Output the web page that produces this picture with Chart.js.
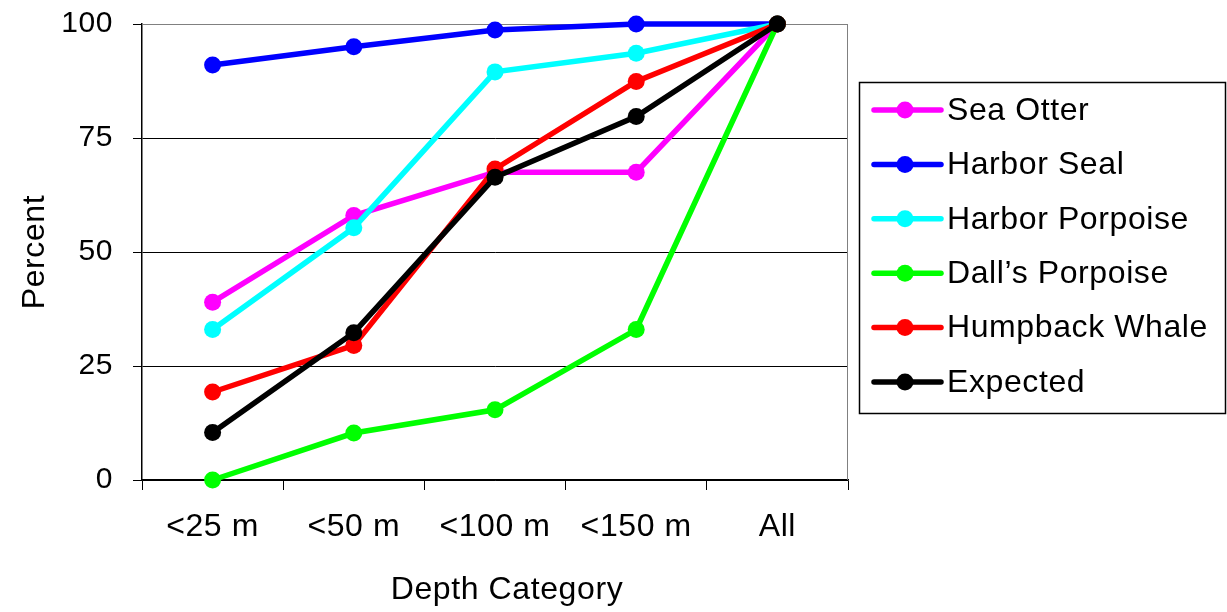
<!DOCTYPE html>
<html>
<head>
<meta charset="utf-8">
<script src="https://cdn.jsdelivr.net/npm/chart.js@4/dist/chart.umd.min.js"></script>
<style>
  html, body { margin: 0; padding: 0; background: #fff; }
  #wrap { width: 1227px; height: 612px; }
</style>
</head>
<body>
<div id="wrap"><canvas id="myChart" width="1227" height="612"></canvas></div>
<script>
const categories = ["<25 m", "<50 m", "<100 m", "<150 m", "All"];
const yTicks = [0, 25, 50, 75, 100];

const seaOtter = [39, 58, 67.5, 67.5, 100];
const harborSeal = [91, 95, 98.7, 100, 100];
const harborPorpoise = [33, 55.3, 89.5, 93.6, 100];
const dallsPorpoise = [0, 10.3, 15.4, 33, 100];
const humpbackWhale = [19.3, 29.5, 68.2, 87.4, 100];
const expected = [10.4, 32.3, 66.4, 79.7, 100];

const seriesNames = ["Sea Otter", "Harbor Seal", "Harbor Porpoise", "Dall\u2019s Porpoise", "Humpback Whale", "Expected"];
const seriesColors = ["#ff00ff", "#0000ff", "#00ffff", "#00ff00", "#ff0000", "#000000"];
const seriesData = [seaOtter, harborSeal, harborPorpoise, dallsPorpoise, humpbackWhale, expected];

const xTitle = "Depth Category";
const yTitle = "Percent";

const FONT = "'Liberation Sans', Arial, sans-serif";

// slightly spaced letters, like the old Excel rendering
const spacing = {
    id: "spacing",
    beforeInit (chart) { chart.ctx.letterSpacing = "0.6px"; },
    beforeDraw (chart) { chart.ctx.letterSpacing = "0.6px"; }
};

// legend box and x title, placed like the Excel original
const boxLegend = {
    id: "boxLegend",
    afterDraw (chart)
    {
        const ctx = chart.ctx;
        ctx.save();
        ctx.fillStyle = "#000";
        ctx.font = "32px " + FONT;
        ctx.textAlign = "center";
        ctx.textBaseline = "middle";
        ctx.fillText(xTitle, 507, 590);

        ctx.textAlign = "left";
        ctx.strokeStyle = "#000";
        ctx.lineWidth = 1.5;
        ctx.strokeRect(859.5, 82.5, 366, 331);
        chart.data.datasets.forEach((ds, i) => {
            const y = 110 + i * 54.4;
            ctx.strokeStyle = ds.borderColor;
            ctx.lineWidth = 5.5;
            ctx.lineCap = "round";
            ctx.beginPath();
            ctx.moveTo(874, y);
            ctx.lineTo(941, y);
            ctx.stroke();
            ctx.fillStyle = ds.borderColor;
            ctx.beginPath();
            ctx.arc(905, y, 8.5, 0, Math.PI * 2);
            ctx.fill();
            ctx.fillStyle = "#000";
            ctx.fillText(ds.label, 947, y + 1);
        });
        ctx.restore();
    }
};

// gray frame round the plot area
const plotFrame = {
    id: "plotFrame",
    beforeDatasetsDraw (chart)
    {
        const a = chart.chartArea;
        const ctx = chart.ctx;
        ctx.save();
        ctx.strokeStyle = "#808080";
        ctx.lineWidth = 1;
        ctx.beginPath();
        ctx.moveTo(a.left, a.top + 0.5);
        ctx.lineTo(a.right - 0.5, a.top + 0.5);
        ctx.lineTo(a.right - 0.5, a.bottom);
        ctx.stroke();
        ctx.restore();
    }
};

const ctx = document.getElementById("myChart");

new Chart(ctx, {
    type: "line",
    data: {
        labels: categories,
        datasets: seriesData.map((data, i) => ({
            label: seriesNames[i],
            data: data,
            borderColor: seriesColors[i],
            backgroundColor: seriesColors[i],
            borderWidth: 5.5,
            pointRadius: 8.5,
            pointHoverRadius: 8.5,
            pointBorderWidth: 0,
            tension: 0,
            clip: false,
            order: seriesData.length - i
        }))
    },
    options: {
        responsive: false,
        animation: false,
        events: [],
        layout: { padding: { top: 24, right: 379, left: 0, bottom: 0 } },
        plugins: {
            legend: { display: false },
            tooltip: { enabled: false }
        },
        scales: {
            x: {
                offset: true,
                grid: {
                    offset: true,
                    drawOnChartArea: false,
                    drawTicks: true,
                    tickLength: 10,
                    tickColor: "#000",
                    lineWidth: 1
                },
                border: { display: true, color: "#000", width: 1.5 },
                ticks: {
                    color: "#000",
                    padding: 18,
                    font: { family: FONT, size: 32 },
                    maxRotation: 0
                },
                afterFit (scale) {
                    scale.height = 132;
                    scale.paddingLeft = 0;
                    scale.paddingRight = 0;
                }
            },
            y: {
                min: 0,
                max: 100,
                afterBuildTicks (scale) { scale.ticks = yTicks.map(v => ({ value: v })); },
                grid: {
                    color: c => (c.tick && c.tick.value === 100) ? "#808080" : "#000",
                    lineWidth: 1,
                    drawTicks: true,
                    tickLength: 9,
                    tickColor: "#000"
                },
                border: { display: true, color: "#000", width: 1.5 },
                ticks: {
                    color: "#000",
                    padding: 20,
                    font: { family: FONT, size: 30 }
                },
                title: {
                    display: true,
                    text: yTitle,
                    color: "#000",
                    font: { family: FONT, size: 32 },
                    padding: { top: 16, bottom: 0 }
                },
                afterFit (scale) {
                    scale.width = 142;
                    scale.paddingTop = 0;
                    scale.paddingBottom = 0;
                }
            }
        }
    },
    plugins: [spacing, plotFrame, boxLegend]
});
</script>
</body>
</html>
